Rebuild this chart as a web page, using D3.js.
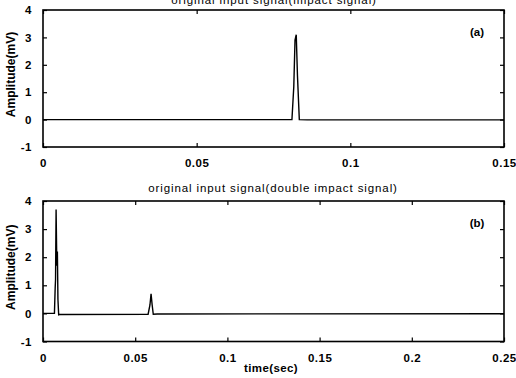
<!DOCTYPE html>
<html>
<head>
<meta charset="utf-8">
<script src="https://cdn.jsdelivr.net/npm/d3@7"></script>
<style>
  body { margin: 0; background: #fff; }
  svg { display: block; font-family: 'Liberation Sans', Arial, sans-serif; }
</style>
</head>
<body>
<svg></svg>
<script>
// single impact signal (a)
let timeA = [0, 0.0810, 0.0816, 0.0820, 0.0824, 0.0828, 0.0834, 0.0860, 0.15]
let ampA  = [0, 0,      1.2,    2.9,    3.1,    1.6,    0,     -0.01,   -0.01]

// double impact signal (b)
let timeB = [0, 0.0062, 0.0066, 0.0068, 0.0071, 0.0075, 0.0078, 0.0081, 0.0085, 0.0090, 0.0570, 0.0580, 0.0586, 0.0592, 0.0598, 0.0620, 0.25]
let ampB  = [0, 0,      0.9,    1.2,    3.7,    1.7,    2.2,    0.5,    -0.05,  -0.04,  -0.03,  0.3,    0.7,    0.3,    -0.03,  -0.02,  -0.01]

let ticksA = [0, 0.05, 0.1, 0.15]
let ticksB = [0, 0.05, 0.1, 0.15, 0.2, 0.25]
let yTicks = [-1, 0, 1, 2, 3, 4]

let width = 516
let height = 378

let svg = d3.select('svg')
    .attr('width', width)
    .attr('height', height)

let drawPanel = (opt) => {
    let xScale = d3.scaleLinear()
        .domain([0, opt.xMax])
        .range([43, 504])
    let yScale = d3.scaleLinear()
        .domain([-1, 4])
        .range([opt.bottom, opt.top])

    let g = svg.append('g')

    let fmt = (d) => d === 0 ? '0' : String(d)

    // MATLAB style: ticks inward on all four sides, labels only left/bottom
    let xAxis = d3.axisBottom(xScale).tickValues(opt.ticks).tickFormat(fmt).tickSizeInner(-4).tickSizeOuter(0).tickPadding(12)
    let xTop = d3.axisTop(xScale).tickValues(opt.ticks).tickSizeInner(-4).tickSizeOuter(0)
    let yAxis = d3.axisLeft(yScale).tickValues(yTicks).tickFormat(fmt).tickSizeInner(-4).tickSizeOuter(0).tickPadding(11)
    let yRight = d3.axisRight(yScale).tickValues(yTicks).tickSizeInner(-4).tickSizeOuter(0)

    let gx = g.append('g').attr('transform', 'translate(0,' + opt.bottom + ')').call(xAxis)
    let gxt = g.append('g').attr('transform', 'translate(0,' + opt.top + ')').call(xTop)
    let gy = g.append('g').attr('transform', 'translate(43,0)').call(yAxis)
    let gyr = g.append('g').attr('transform', 'translate(504,0)').call(yRight)

    ;[gx, gxt, gy, gyr].forEach((s) => {
        s.select('.domain').remove()
        s.selectAll('line').attr('stroke', '#000').attr('stroke-width', 1.2)
    })
    gxt.selectAll('text').remove()
    gyr.selectAll('text').remove()
    ;[gx, gy].forEach((s) => {
        s.selectAll('text')
            .style('font-size', '11.5px')
            .style('font-weight', 'bold')
            .style('letter-spacing', '0.5px')
            .attr('fill', '#000')
    })

    // frame
    g.append('rect')
        .attr('x', 43).attr('y', opt.top)
        .attr('width', 461).attr('height', opt.bottom - opt.top)
        .attr('fill', 'none')
        .attr('stroke', '#000')
        .attr('stroke-width', 1.6)

    let line = d3.line()
        .x((d) => xScale(d[0]))
        .y((d) => yScale(d[1]))

    g.append('path')
        .datum(opt.t.map((t, i) => [t, opt.a[i]]))
        .attr('d', line)
        .attr('fill', 'none')
        .attr('stroke', '#000')
        .attr('stroke-width', 1.4)

    g.append('text')
        .attr('x', opt.titleX).attr('y', opt.titleY)
        .attr('text-anchor', 'middle')
        .style('font-size', '11.5px')
        .style('letter-spacing', '0.9px')
        .text(opt.title)

    g.append('text')
        .attr('x', 477).attr('y', opt.top + 26)
        .attr('text-anchor', 'middle')
        .style('font-size', '11.5px')
        .style('font-weight', 'bold')
        .text(opt.label)

    g.append('text')
        .attr('transform', 'translate(15,' + ((opt.top + opt.bottom) / 2 - 4) + ') rotate(-90)')
        .attr('text-anchor', 'middle')
        .style('font-size', '12px')
        .style('font-weight', 'bold')
        .text('Amplitude(mV)')
}

drawPanel({ xMax: 0.15, ticks: ticksA, top: 10, bottom: 147, t: timeA, a: ampA,
    title: 'original input signal(impact signal)', titleX: 274, titleY: 4, label: '(a)' })
drawPanel({ xMax: 0.25, ticks: ticksB, top: 201, bottom: 341.5, t: timeB, a: ampB,
    title: 'original input signal(double impact signal)', titleX: 273, titleY: 192, label: '(b)' })

svg.append('text')
    .attr('x', 271).attr('y', 372)
    .attr('text-anchor', 'middle')
    .style('font-size', '11.5px')
    .style('font-weight', 'bold')
    .style('letter-spacing', '0.4px')
    .text('time(sec)')
</script>
</body>
</html>
